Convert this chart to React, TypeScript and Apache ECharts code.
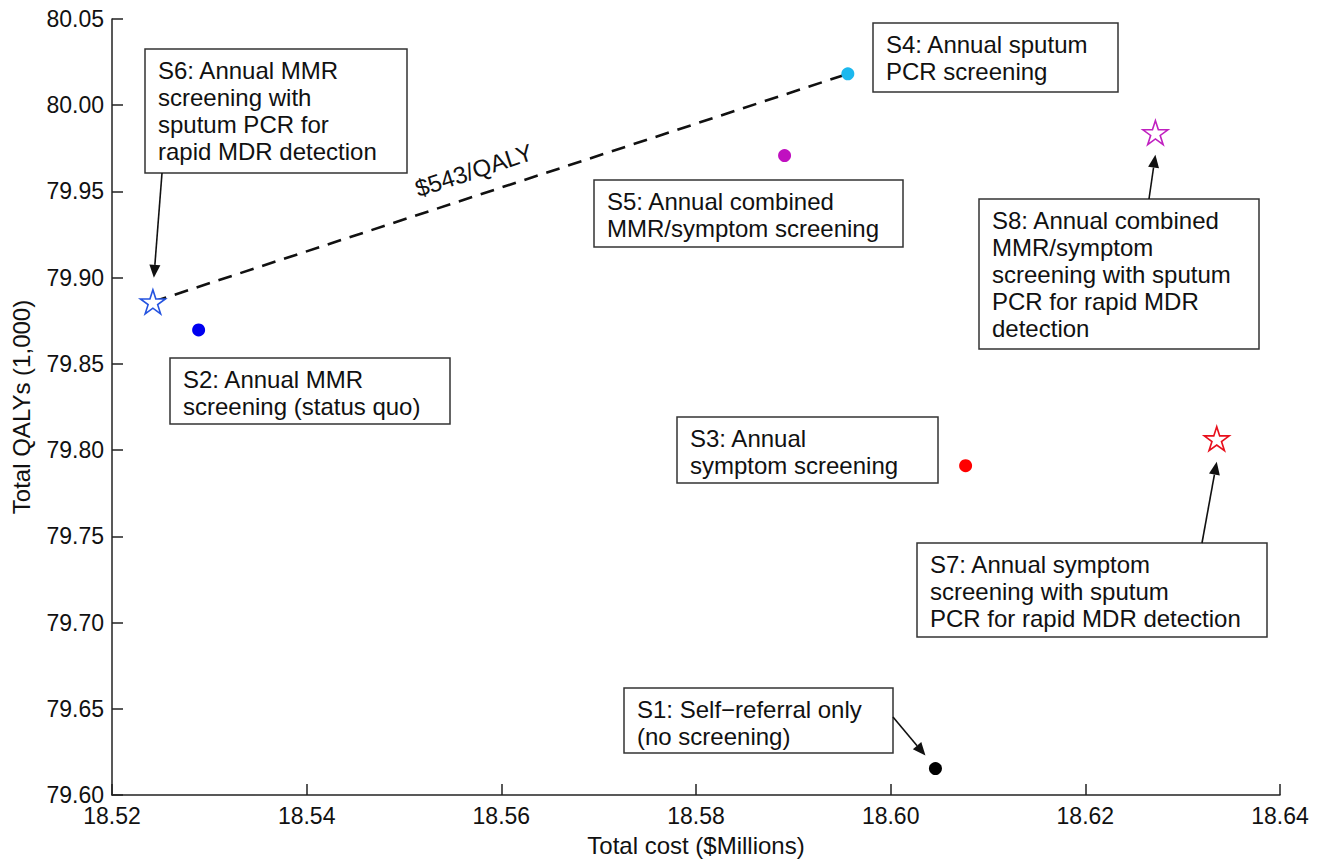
import React, { useEffect, useRef } from "react";
import * as echarts from "echarts";

// ---- data ----
const strategies = ["S1", "S2", "S3", "S4", "S5", "S6", "S7", "S8"];
const totalCost = [18.6046, 18.5289, 18.6077, 18.5956, 18.5891, 18.5242, 18.6335, 18.6272];
const totalQALY = [79.6153, 79.8697, 79.791, 80.0182, 79.9708, 79.886, 79.8066, 79.9841];
const isStar = [false, false, false, false, false, true, true, true];
const pointColors = ["#000000", "#0000f0", "#ff0000", "#1cb8ee", "#c010c0", "#2453e0", "#e8101c", "#c020c0"];
const annotationTexts = [
  "S1: Self\u2212referral only\n(no screening)",
  "S2: Annual MMR\nscreening (status quo)",
  "S3: Annual\nsymptom screening",
  "S4: Annual sputum\nPCR screening",
  "S5: Annual combined\nMMR/symptom screening",
  "S6: Annual MMR\nscreening with\nsputum PCR for\nrapid MDR detection",
  "S7: Annual symptom\nscreening with sputum\nPCR for rapid MDR detection",
  "S8: Annual combined\nMMR/symptom\nscreening with sputum\nPCR for rapid MDR\ndetection",
];
const frontier = ["S6", "S4"];
const icerLabel = "$543/QALY";
const xMin = 18.52, xMax = 18.64, xStep = 0.02;
const yMin = 79.6, yMax = 80.05, yStep = 0.05;
const xTitle = "Total cost ($Millions)";
const yTitle = "Total QALYs (1,000)";

// ---- layout (pixels) ----
const boxes: Record<string, [number, number, number, number]> = {
  S1: [624, 688, 269, 65],
  S2: [170, 358, 280, 66],
  S3: [677, 417, 261, 66],
  S4: [873, 23, 245, 69],
  S5: [594, 180, 309, 67],
  S6: [145, 49, 262, 124],
  S7: [917, 543, 350, 94],
  S8: [979, 199, 280, 150],
};
const arrows: Record<string, { tail: [number, number]; tipOff: [number, number] }> = {
  S6: { tail: [162, 173], tipOff: [1, -24] },
  S8: { tail: [1149, 199], tipOff: [0, 22] },
  S7: { tail: [1202, 543], tipOff: [0, 23] },
  S1: { tail: [893, 717], tipOff: [-10, -13] },
};

const FONT = '"Liberation Sans", Arial, Helvetica, sans-serif';
const STAR =
  "path://M50 0 L61.23 34.55 L97.55 34.55 L68.17 55.9 L79.39 90.45 L50 69.1 L20.61 90.45 L31.83 55.9 L2.45 34.55 L38.77 34.55 Z";

export default function App() {
  const ref = useRef<HTMLDivElement>(null);
  useEffect(() => {
    if (!ref.current) return;
    const chart = echarts.init(ref.current, undefined, { renderer: "svg" });
    const idx = (s: string) => strategies.indexOf(s);
    const dots = strategies
      .map((s, i) => ({ i, s }))
      .filter((d) => !isStar[d.i])
      .map((d) => ({
        name: d.s,
        value: [totalCost[d.i], totalQALY[d.i]],
        itemStyle: { color: pointColors[d.i], opacity: 1 },
      }));
    const stars = strategies
      .map((s, i) => ({ i, s }))
      .filter((d) => isStar[d.i])
      .map((d) => ({
        name: d.s,
        value: [totalCost[d.i], totalQALY[d.i]],
        itemStyle: { color: "#ffffff", borderColor: pointColors[d.i], borderWidth: 1.6, opacity: 1 },
      }));
    const axisCommon = {
      axisLine: { show: true, lineStyle: { color: "#222", width: 1.5 } },
      axisTick: { show: true, inside: true, length: 11, lineStyle: { color: "#222", width: 1.5 } },
      splitLine: { show: false },
      axisLabel: { color: "#111", fontSize: 23, fontFamily: FONT, formatter: (v: number) => v.toFixed(2) },
      nameTextStyle: { color: "#111", fontSize: 24, fontFamily: FONT },
      nameLocation: "middle" as const,
    };
    const option: any = {
      animation: false,
      backgroundColor: "#ffffff",
      grid: { left: 112, top: 19, right: 38, bottom: 64, containLabel: false },
      xAxis: {
        type: "value",
        min: xMin,
        max: xMax,
        interval: xStep,
        name: xTitle,
        nameGap: 38,
        ...axisCommon,
        axisLabel: { ...axisCommon.axisLabel, margin: 9 },
      },
      yAxis: {
        type: "value",
        min: yMin,
        max: yMax,
        interval: yStep,
        name: yTitle,
        nameGap: 79,
        ...axisCommon,
        axisLabel: { ...axisCommon.axisLabel, margin: 8 },
      },
      series: [
        {
          type: "line",
          data: frontier.map((s) => [totalCost[idx(s)], totalQALY[idx(s)]]),
          symbol: "none",
          lineStyle: { color: "#111", width: 2.6, type: [14, 9] },
          z: 1,
          silent: true,
        },
        { type: "scatter", data: dots, symbol: "circle", symbolSize: 13, itemStyle: { opacity: 1 }, z: 3 },
        { type: "scatter", data: stars, symbol: STAR, symbolSize: [25, 24], itemStyle: { opacity: 1 }, z: 4 },
      ],
    };
    chart.setOption(option);

    const px = (s: string) =>
      chart.convertToPixel({ xAxisIndex: 0, yAxisIndex: 0 }, [totalCost[idx(s)], totalQALY[idx(s)]]) as number[];

    const elements: any[] = [];
    strategies.forEach((s, i) => {
      const b = boxes[s];
      elements.push({
        type: "rect",
        shape: { x: b[0], y: b[1], width: b[2], height: b[3] },
        style: { fill: "#ffffff", stroke: "#333", lineWidth: 1.5 },
        z: 10,
      });
      elements.push({
        type: "text",
        x: b[0] + 13,
        y: b[1] + 8,
        style: {
          text: annotationTexts[i],
          fontSize: 24,
          fontFamily: FONT,
          lineHeight: 27,
          fill: "#111",
          align: "left",
          verticalAlign: "top",
        },
        z: 11,
      });
    });
    Object.keys(arrows).forEach((s) => {
      const a = arrows[s];
      const p = px(s);
      const tip = [p[0] + a.tipOff[0], p[1] + a.tipOff[1]];
      const dx = tip[0] - a.tail[0], dy = tip[1] - a.tail[1];
      const len = Math.sqrt(dx * dx + dy * dy);
      const ux = dx / len, uy = dy / len;
      const hl = 13, hw = 5.5;
      const base = [tip[0] - ux * hl, tip[1] - uy * hl];
      elements.push({
        type: "line",
        shape: { x1: a.tail[0], y1: a.tail[1], x2: base[0], y2: base[1] },
        style: { stroke: "#111", lineWidth: 1.6 },
        z: 12,
      });
      elements.push({
        type: "polygon",
        shape: {
          points: [
            tip,
            [base[0] - uy * hw, base[1] + ux * hw],
            [base[0] + uy * hw, base[1] - ux * hw],
          ],
        },
        style: { fill: "#111" },
        z: 12,
      });
    });
    // ICER label along the frontier
    const a = px(frontier[0]);
    const b = px(frontier[1]);
    const ldx = b[0] - a[0], ldy = b[1] - a[1];
    const llen = Math.sqrt(ldx * ldx + ldy * ldy);
    const t = 0.473;
    const mx = a[0] + ldx * t, my = a[1] + ldy * t;
    const nx = ldy / llen, ny = -ldx / llen; // perpendicular pointing up
    const off = 25;
    elements.push({
      type: "text",
      x: mx + nx * off,
      y: my + ny * off,
      rotation: Math.atan2(-ldy, ldx),
      style: {
        text: icerLabel,
        fontSize: 24,
        fontFamily: FONT,
        fill: "#111",
        align: "center",
        verticalAlign: "middle",
      },
      z: 12,
    });
    chart.setOption({ graphic: { elements } });

    return () => chart.dispose();
  }, []);
  return (
    <div
      ref={ref}
      style={{ position: "absolute", left: 0, top: 0, width: 1318, height: 862, background: "#fff" }}
    />
  );
}
